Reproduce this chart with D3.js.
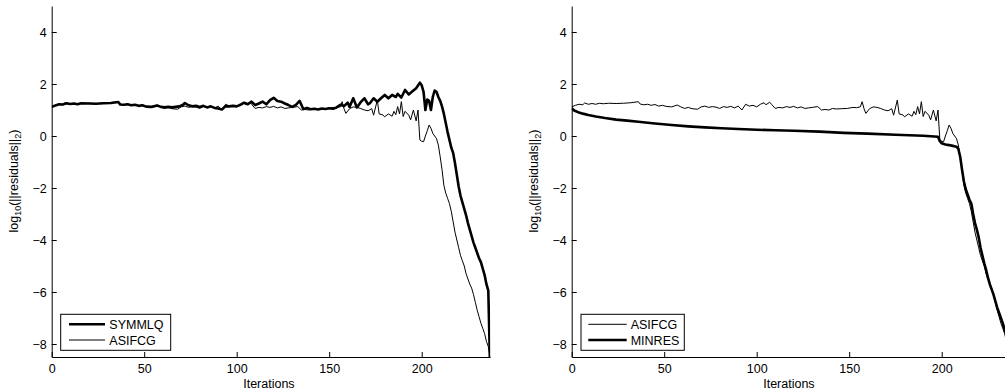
<!DOCTYPE html>
<html>
<head>
<meta charset="utf-8">
<script src="https://cdn.jsdelivr.net/npm/d3@7"></script>
<style>
  html, body { margin: 0; padding: 0; background: #fff; }
  svg { display: block; }
  text { font-family: "Liberation Sans", Arial, Helvetica, sans-serif; fill: #000; }
</style>
</head>
<body>
<svg id="chart" width="1005" height="392"></svg>
<script>
// ---------- data ----------
const xTicks = [0, 50, 100, 150, 200];
const yTicks = [4, 2, 0, -2, -4, -6, -8];
const xDomain = [0, 237];
const yDomain = [-8.5, 5];
const xLabel = "Iterations";

// ASIFCG (same run shown in both panels)
const asifcgIter = [0,2,4,6,7,9,11,13,15,17,20,24,28,32,36,37,39,41,43,45,47,49,51,54,57,59,61,63,65,68,70,72,74,76,78,80,82,84,86,88,90,92,94,96,98,100,102,104,105,107,108,110,112,114,116,118,120,122,124,126,128,130,133,135,137,139,141,143,146,149,152,154,156,157,158,159,161,163,165,167,169,171,173,174,176,177,179,180,182,184,185,186,187,188,189,190,191,193,194,195.5,197,198,199,200,201,202,203,204,205,206,207,208,209,210,211,212,213,214,215,216,217,218,219,220,221,222,223,224,225,226,227,228,229,230,231,232,233,234,235,236,237];
const asifcgVal  = [1.12,1.18,1.22,1.20,1.27,1.22,1.25,1.22,1.26,1.24,1.26,1.25,1.26,1.28,1.32,1.23,1.20,1.22,1.18,1.21,1.15,1.18,1.14,1.12,1.19,1.12,1.06,1.10,1.05,1.03,1.12,1.15,1.10,1.13,1.11,1.06,1.13,1.10,1.14,1.08,1.15,1.00,1.22,1.15,1.18,1.12,1.22,1.28,1.20,1.30,1.22,1.06,1.10,1.08,1.13,1.10,1.14,1.08,1.12,1.06,1.08,1.10,1.13,1.00,1.02,1.00,1.06,1.04,1.05,1.06,1.10,1.09,1.12,1.32,1.05,0.87,1.05,1.12,1.10,1.06,1.00,0.97,1.05,0.80,1.38,0.85,0.81,0.74,0.85,0.76,0.95,0.82,1.13,0.85,1.32,0.75,0.95,0.80,0.62,1.00,0.58,1.00,-0.15,-0.20,-0.22,0.00,0.20,0.42,0.30,0.10,0.00,-0.10,-0.35,-0.80,-1.30,-1.90,-2.20,-2.40,-2.60,-2.90,-3.30,-3.70,-4.00,-4.30,-4.60,-4.80,-5.00,-5.30,-5.50,-5.70,-5.85,-6.10,-6.40,-6.70,-6.95,-7.20,-7.40,-7.60,-7.90,-8.10,-8.50];

// SYMMLQ (left panel, thick)
const symmlqIter = [0,2,4,6,8,10,12,14,16,20,24,28,32,36,37,39,41,43,45,47,49,51,54,57,59,61,63,65,67,69,71,72,74,76,78,80,82,84,86,88,90,92,94,96,98,100,102,104,106,108,110,112,114,116,118,120,122,124,126,128,130,132,134,136,138,140,142,144,146,148,150,152,154,156,158,160,161,163,165,167,169,171,172,174,176,178,180,182,184,186,187,189,191,193,195,197,199,200,201,202,203,204,205,206,207,208,209,210,211,212,213,214,215,216,217,218,219,220,221,222,223,224,225,226,227,228,229,230,231,232,233,234,235,236,237];
const symmlqVal  = [1.12,1.17,1.22,1.21,1.26,1.23,1.25,1.22,1.26,1.25,1.24,1.26,1.27,1.31,1.21,1.20,1.22,1.18,1.20,1.16,1.18,1.13,1.12,1.17,1.12,1.10,1.12,1.10,1.12,1.14,1.20,1.27,1.18,1.14,1.16,1.12,1.16,1.10,1.14,1.08,1.06,1.02,1.15,1.14,1.16,1.14,1.20,1.28,1.22,1.32,1.19,1.25,1.32,1.22,1.38,1.47,1.35,1.32,1.25,1.19,1.12,1.20,1.35,1.04,1.08,1.03,1.05,1.02,1.06,1.04,1.07,1.05,1.10,1.20,1.15,1.28,1.12,1.45,1.10,1.30,1.45,1.22,1.26,1.45,1.32,1.45,1.58,1.45,1.58,1.50,1.62,1.48,1.77,1.60,1.72,1.84,2.05,1.95,1.70,1.00,1.40,1.35,1.00,1.50,1.75,1.70,1.50,1.35,1.13,0.85,0.50,0.15,-0.15,-0.45,-0.65,-1.05,-1.50,-1.95,-2.30,-2.55,-2.80,-3.05,-3.35,-3.60,-3.85,-4.10,-4.30,-4.50,-4.70,-4.85,-5.10,-5.35,-5.70,-5.95,-9.00];

// MINRES (right panel, thick)
const minresIter = [0,1,2,4,6,9,13,18,24,30,36,45,54,63,72,81,90,100,110,120,134,147,160,175,190,198,199,200,202,204,206,208,209,210,211,212,213,214,215,216,217,218,219,220,221,222,223,224,225,226,227,228,229,230,231,232,233,234,235,236,237];
const minresVal  = [1.07,1.00,0.96,0.90,0.86,0.81,0.75,0.69,0.63,0.59,0.55,0.48,0.42,0.37,0.33,0.30,0.27,0.24,0.22,0.20,0.17,0.12,0.09,0.05,0.01,-0.03,-0.20,-0.28,-0.33,-0.35,-0.38,-0.41,-0.50,-0.80,-1.30,-1.75,-2.05,-2.25,-2.45,-2.60,-3.00,-3.35,-3.60,-3.90,-4.30,-4.60,-4.90,-5.15,-5.45,-5.70,-5.90,-6.10,-6.35,-6.60,-6.80,-7.00,-7.20,-7.45,-7.65,-7.90,-8.20];

const panels = [
  { x0: 51.7, series: [
      { name: "SYMMLQ", iter: symmlqIter, val: symmlqVal, width: 2.6 },
      { name: "ASIFCG", iter: asifcgIter, val: asifcgVal, width: 1 } ],
    legend: { x: 60.7, y: 314.3, w: 110, h: 36, lineX1: 69, lineX2: 105, textX: 109.3 } },
  { x0: 571.7, series: [
      { name: "ASIFCG", iter: asifcgIter, val: asifcgVal, width: 1 },
      { name: "MINRES", iter: minresIter, val: minresVal, width: 2.6 } ],
    legend: { x: 581, y: 314.3, w: 103.3, h: 36, lineX1: 588.3, lineX2: 626.7, textX: 630.7 } }
];

// ---------- drawing ----------
const svg = d3.select("#chart");
const plotTop = 6, plotBottom = 357;
const pxPerUnit = 1.85;
const fs = 12.5;

panels.forEach((p, k) => {
  const x = d3.scaleLinear().domain(xDomain).range([p.x0, p.x0 + (xDomain[1] - xDomain[0]) * pxPerUnit]);
  const y = d3.scaleLinear().domain(yDomain).range([plotBottom, plotTop]);
  const g = svg.append("g");

  const clipId = "clip" + k;
  svg.append("defs").append("clipPath").attr("id", clipId)
    .append("rect").attr("x", x(xDomain[0])).attr("y", plotTop)
    .attr("width", x(xDomain[1]) - x(xDomain[0])).attr("height", plotBottom - plotTop);

  const line = d3.line().x(d => x(d[0])).y(d => y(d[1]));
  const lg = g.append("g").attr("clip-path", `url(#${clipId})`);
  p.series.forEach(s => {
    const pts = s.iter.map((it, i) => [it, s.val[i]]);
    lg.append("path").datum(pts)
      .attr("d", line).attr("fill", "none").attr("stroke", "#000")
      .attr("stroke-width", s.width).attr("stroke-linejoin", "round");
  });

  // axes
  const xAxis = d3.axisBottom(x).tickValues(xTicks).tickSizeInner(-5).tickSizeOuter(0).tickPadding(7);
  const yAxis = d3.axisLeft(y).tickValues(yTicks).tickSizeInner(-5).tickSizeOuter(0).tickPadding(5)
    .tickFormat(d => d < 0 ? "\u2212" + Math.abs(d) : String(d));
  const gx = g.append("g").attr("transform", `translate(0,${plotBottom})`).call(xAxis);
  const gy = g.append("g").attr("transform", `translate(${p.x0},0)`).call(yAxis);
  [gx, gy].forEach(a => {
    a.select(".domain").attr("stroke", "#000").attr("stroke-width", 1);
    a.selectAll(".tick line").attr("stroke", "#000");
    a.selectAll(".tick text").attr("font-size", fs).attr("font-family", "Liberation Sans, Arial, sans-serif").attr("fill", "#000");
  });

  // labels
  const xm = (x(xDomain[0]) + x(xDomain[1])) / 2 - 2;
  g.append("text").attr("x", xm).attr("y", 388).attr("text-anchor", "middle")
    .attr("font-size", fs).text(xLabel);

  const yl = g.append("text").attr("transform", `translate(${p.x0 - 34},181) rotate(-90)`)
    .attr("text-anchor", "middle").attr("font-size", fs);
  yl.append("tspan").text("log");
  yl.append("tspan").attr("font-size", 9).attr("dy", 3).text("10");
  yl.append("tspan").attr("dy", -3).text("(||residuals||");
  yl.append("tspan").attr("font-size", 9).attr("dy", 3).text("2");
  yl.append("tspan").attr("dy", -3).text(")");

  // legend
  const L = p.legend;
  const lgG = g.append("g");
  lgG.append("rect").attr("x", L.x).attr("y", L.y).attr("width", L.w).attr("height", L.h)
    .attr("fill", "#fff").attr("stroke", "#000").attr("stroke-width", 1);
  p.series.forEach((s, i) => {
    const ly = L.y + 10 + i * 15.7;
    lgG.append("line").attr("x1", L.lineX1).attr("x2", L.lineX2).attr("y1", ly).attr("y2", ly)
      .attr("stroke", "#000").attr("stroke-width", s.width);
    lgG.append("text").attr("x", L.textX).attr("y", ly).attr("dy", "0.36em")
      .attr("font-size", fs).text(s.name);
  });
});
</script>
</body>
</html>
